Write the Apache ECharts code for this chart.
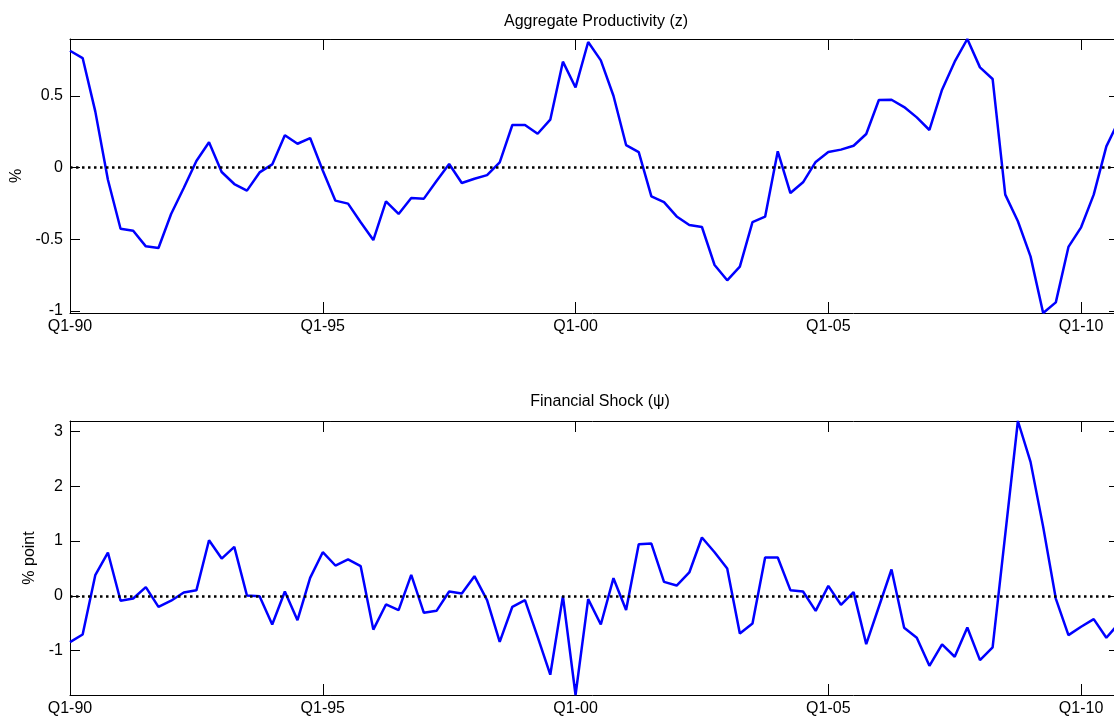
<!DOCTYPE html>
<html>
<head>
<meta charset="utf-8">
<script src="https://cdn.jsdelivr.net/npm/echarts@6/dist/echarts.min.js"></script>
<style>
  html, body { margin: 0; padding: 0; background: #fff; }
  #chart { width: 1114px; height: 724px; }
</style>
</head>
<body>
<div id="chart"></div>
<script>
// Quarterly index: 0 = Q1-1990 ... 83 = Q4-2010
const quarterTickValues = [0, 20, 40, 60, 80];
const quarterTickLabels = ['Q1-90', 'Q1-95', 'Q1-00', 'Q1-05', 'Q1-10'];

const zTicks = [-1, -0.5, 0, 0.5];
const psiTicks = [-1, 0, 1, 2, 3];

const zTitle = 'Aggregate Productivity (z)';
const psiTitle = 'Financial Shock (\u03C8)';
const zAxisName = '%';
const psiAxisName = '% point';

const zData = [
  0.816, 0.765, 0.393, -0.084, -0.426, -0.44, -0.549, -0.56, -0.323, -0.142,
  0.047, 0.177, -0.03, -0.114, -0.16, -0.033, 0.023, 0.226, 0.167, 0.207,
  -0.02, -0.23, -0.251, -0.381, -0.505, -0.235, -0.323, -0.212, -0.216, -0.093,
  0.026, -0.107, -0.077, -0.052, 0.037, 0.298, 0.298, 0.237, 0.335, 0.74,
  0.56, 0.877, 0.749, 0.502, 0.158, 0.109, -0.2, -0.24, -0.34, -0.4,
  -0.414, -0.679, -0.786, -0.69, -0.38, -0.342, 0.114, -0.177, -0.102, 0.04,
  0.109, 0.126, 0.153, 0.235, 0.472, 0.474, 0.423, 0.351, 0.263, 0.544,
  0.74, 0.898, 0.70, 0.619, -0.188, -0.374, -0.619, -1.014, -0.94, -0.553,
  -0.416, -0.188, 0.149, 0.33
];

const psiData = [
  -0.845, -0.705, 0.377, 0.79, -0.09, -0.05, 0.158, -0.201, -0.09, 0.06,
  0.10, 1.015, 0.68, 0.894, 0.006, -0.006, -0.523, 0.079, -0.444, 0.328,
  0.796, 0.553, 0.663, 0.541, -0.617, -0.158, -0.26, 0.383, -0.31, -0.274,
  0.079, 0.043, 0.359, -0.079, -0.84, -0.2, -0.079, -0.75, -1.44, -0.006,
  -1.81, -0.06, -0.523, 0.322, -0.26, 0.942, 0.954, 0.255, 0.188, 0.426,
  1.064, 0.796, 0.498, -0.687, -0.505, 0.70, 0.70, 0.103, 0.079, -0.274,
  0.182, -0.164, 0.067, -0.881, -0.2, 0.48, -0.584, -0.766, -1.277, -0.888,
  -1.112, -0.578, -1.173, -0.942, 1.12, 3.19, 2.444, 1.258, -0.05, -0.717,
  -0.565, -0.426, -0.766, -0.5
];

const FONT = "'Liberation Sans', Arial, sans-serif";
const xMax = zData.length - 1;

function pairs(arr) { return arr.map((v, i) => [i, v]); }

function xAxisPair(gridIndex) {
  const common = {
    type: 'value', gridIndex: gridIndex, min: 0, max: xMax,
    splitLine: { show: false },
    axisLine: { show: true, onZero: false, lineStyle: { color: '#000', width: 1 } },
    axisTick: { show: true, inside: true, length: 11, customValues: quarterTickValues,
                lineStyle: { color: '#000', width: 1 } }
  };
  return [
    Object.assign({}, common, {
      position: 'bottom',
      axisLabel: {
        show: true, customValues: quarterTickValues, margin: 6,
        color: '#000', fontSize: 16, fontFamily: FONT,
        formatter: v => quarterTickLabels[quarterTickValues.indexOf(v)] || ''
      }
    }),
    Object.assign({}, common, { position: 'top', axisLabel: { show: false } })
  ];
}

function yAxisPair(gridIndex, data, ticks, name, nameGap) {
  const mn = Math.min.apply(null, data), mx = Math.max.apply(null, data);
  const common = {
    type: 'value', gridIndex: gridIndex, min: mn, max: mx,
    splitLine: { show: false },
    axisLine: { show: true, onZero: false, lineStyle: { color: '#000', width: 1 } },
    axisTick: { show: true, inside: true, length: 10, customValues: ticks,
                lineStyle: { color: '#000', width: 1 } }
  };
  return [
    Object.assign({}, common, {
      position: 'left',
      name: name, nameLocation: 'middle', nameGap: nameGap, nameRotate: 90,
      nameTextStyle: { color: '#000', fontSize: 16, fontFamily: FONT },
      axisLabel: {
        show: true, customValues: ticks, margin: 7,
        color: '#000', fontSize: 16, fontFamily: FONT
      }
    }),
    Object.assign({}, common, { position: 'right', axisLabel: { show: false } })
  ];
}

function lineSeries(data, axisIdx) {
  return {
    type: 'line', xAxisIndex: axisIdx, yAxisIndex: axisIdx,
    data: pairs(data), symbol: 'none', showSymbol: false,
    lineStyle: { color: '#0000ff', width: 2.5 },
    itemStyle: { color: '#0000ff' },
    clip: true, silent: true,
    markLine: {
      silent: true, symbol: ['none', 'none'], label: { show: false },
      lineStyle: { color: '#000', type: [2.5, 3.5], width: 2.5 },
      data: [{ yAxis: 0 }], animation: false
    },
    z: 3
  };
}

const chart = echarts.init(document.getElementById('chart'), null, { renderer: 'canvas' });
const xa0 = xAxisPair(0), xa1 = xAxisPair(1);
const ya0 = yAxisPair(0, zData, zTicks, zAxisName, 44);
const ya1 = yAxisPair(1, psiData, psiTicks, psiAxisName, 29);

chart.setOption({
  animation: false,
  backgroundColor: '#fff',
  title: [
    { text: zTitle, left: 591, top: 9, textAlign: 'center',
      textStyle: { color: '#000', fontSize: 16, fontWeight: 'normal', fontFamily: FONT } },
    { text: psiTitle, left: 595, top: 389, textAlign: 'center',
      textStyle: { color: '#000', fontSize: 16, fontWeight: 'normal', fontFamily: FONT } }
  ],
  grid: [
    { left: 70, right: -5, top: 39, height: 274, containLabel: false, outerBoundsMode: 'none' },
    { left: 70, right: -5, top: 421, height: 274, containLabel: false, outerBoundsMode: 'none' }
  ],
  xAxis: [xa0[0], xa0[1], xa1[0], xa1[1]],
  yAxis: [ya0[0], ya0[1], ya1[0], ya1[1]],
  series: [ lineSeries(zData, 0), lineSeries(psiData, 2) ]
});
</script>
</body>
</html>
